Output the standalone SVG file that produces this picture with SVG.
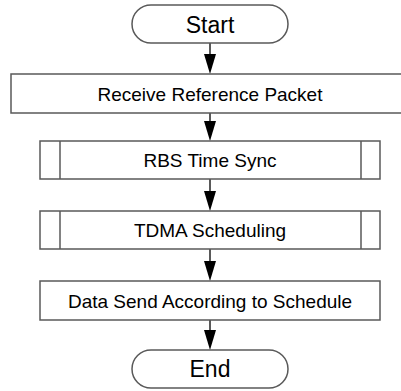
<svg xmlns="http://www.w3.org/2000/svg" width="401" height="391" viewBox="0 0 401 391">
<defs>
<style>
.b{fill:#fff;stroke:#595959;stroke-width:1.5}
.t{font-family:"Liberation Sans",Arial,sans-serif;font-size:19px;fill:#000;text-anchor:middle}
.tb{font-family:"Liberation Sans",Arial,sans-serif;font-size:23px;fill:#000;text-anchor:middle}
.c{stroke:#000;stroke-width:1.3;fill:none}
.h{fill:#000}
</style>
</defs>
<rect width="401" height="391" fill="#fff"/>
<g id="connectors">
<line class="c" x1="210" y1="43" x2="210" y2="56"/><polygon class="h" points="204,54 216,54 210,74"/>
<line class="c" x1="210" y1="113" x2="210" y2="123"/><polygon class="h" points="204,121 216,121 210,141"/>
<line class="c" x1="210" y1="179" x2="210" y2="193"/><polygon class="h" points="204,191 216,191 210,211"/>
<line class="c" x1="210" y1="249" x2="210" y2="263"/><polygon class="h" points="204,261 216,261 210,281"/>
<line class="c" x1="210" y1="320" x2="210" y2="332"/><polygon class="h" points="204,330 216,330 210,350"/>
</g>
<g id="start"><rect class="b" x="132" y="5" width="156" height="38" rx="19"/><text class="tb" x="210" y="32.5">Start</text></g>
<g id="receive"><rect class="b" x="11" y="74" width="398" height="39"/><text class="t" x="210" y="100.5">Receive Reference Packet</text></g>
<g id="rbs"><rect class="b" x="40" y="141" width="340" height="38"/><line class="b" x1="60" y1="141" x2="60" y2="179"/><line class="b" x1="361" y1="141" x2="361" y2="179"/><text class="t" x="210" y="166.5">RBS Time Sync</text></g>
<g id="tdma"><rect class="b" x="40" y="211" width="340" height="38"/><line class="b" x1="60" y1="211" x2="60" y2="249"/><line class="b" x1="361" y1="211" x2="361" y2="249"/><text class="t" x="210" y="236.5">TDMA Scheduling</text></g>
<g id="send"><rect class="b" x="40" y="281" width="340" height="39"/><text class="t" x="210" y="307.5">Data Send According to Schedule</text></g>
<g id="end"><rect class="b" x="132" y="350" width="156" height="38" rx="19"/><text class="tb" x="210" y="377">End</text></g>
</svg>
